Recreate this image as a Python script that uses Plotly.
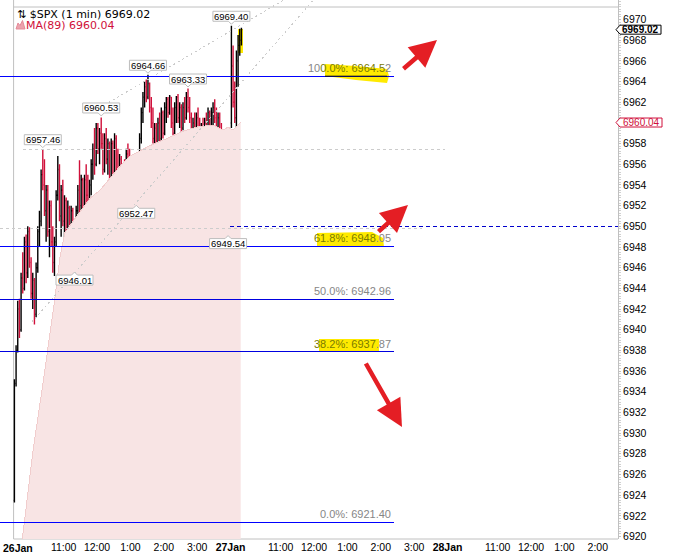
import plotly.graph_objects as go

# ---------------- data (3-minute bars) ----------------
day1_open = [6923.5, 6934.8, 6938.0, 6942.0, 6940.0, 6945.0, 6944.0, 6948.5, 6945.5, 6949.5,
             6946.5, 6943.5, 6944.8, 6941.5, 6946.0, 6949.5, 6950.5, 6955.0, 6954.0, 6951.5,
             6953.5, 6949.5, 6952.0, 6948.5, 6946.5, 6948.5, 6953.0, 6955.5, 6951.0, 6953.5,
             6950.5, 6952.5, 6948.8, 6951.8, 6948.0, 6951.5, 6947.5, 6950.0, 6951.5, 6953.5,
             6952.0, 6954.5, 6951.0, 6954.5, 6953.0, 6951.5, 6954.0, 6956.0, 6957.5, 6956.0,
             6959.5, 6957.5, 6959.0, 6958.0, 6955.5, 6958.5, 6956.5, 6958.0, 6954.5, 6958.0,
             6955.0, 6958.5, 6955.5, 6954.5, 6956.5, 6954.0, 6955.5, 6954.0, 6957.0, 6955.5,
             6954.5, 6956.0, 6953.5, 6955.0, 6953.0, 6955.5, 6958.5, 6961.0, 6962.5, 6963.5,
             6962.5, 6963.8, 6961.5, 6960.0, 6958.5, 6959.5, 6958.0, 6960.0, 6958.5, 6961.0,
             6959.0, 6961.5, 6962.3, 6961.0, 6962.5, 6960.0, 6959.0, 6961.5, 6962.5, 6960.5,
             6961.5, 6959.5, 6961.5, 6960.5, 6962.5, 6961.5, 6960.5, 6959.0, 6960.0, 6958.5,
             6960.5, 6959.5, 6958.5, 6959.5, 6958.0, 6960.0, 6959.0, 6961.0, 6959.0, 6961.0,
             6961.5, 6960.5, 6959.5, 6960.5, 6958.5, 6958.0, 6955.5, 6953.0, 6951.5, 6950.0]
day1_high = [6935.2, 6938.5, 6942.8, 6943.0, 6945.5, 6947.5, 6949.0, 6949.2, 6950.0, 6949.9,
             6947.0, 6945.5, 6945.0, 6946.5, 6950.0, 6951.5, 6955.5, 6957.46, 6956.5, 6954.0,
             6954.0, 6952.5, 6952.5, 6950.0, 6949.0, 6953.5, 6956.8, 6956.0, 6954.0, 6954.5,
             6953.0, 6952.8, 6952.5, 6952.0, 6952.0, 6951.8, 6950.5, 6952.0, 6954.0, 6956.4,
             6955.0, 6954.7, 6955.0, 6956.0, 6955.0, 6954.5, 6956.5, 6958.0, 6959.5, 6960.0,
             6960.0, 6959.5, 6960.53, 6959.0, 6959.0, 6959.5, 6958.5, 6958.2, 6958.5, 6958.3,
             6959.0, 6958.8, 6957.5, 6957.0, 6956.8, 6956.0, 6956.5, 6957.5, 6958.0, 6957.5,
             6956.5, 6956.2, 6955.5, 6955.2, 6956.0, 6959.0, 6961.5, 6963.0, 6964.0, 6964.2,
             6964.66, 6963.9, 6962.5, 6961.5, 6960.0, 6960.0, 6960.5, 6961.0, 6961.5, 6961.2,
             6962.0, 6962.5, 6962.5, 6962.7, 6962.5, 6961.5, 6962.0, 6962.6, 6962.8, 6962.0,
             6961.8, 6962.0, 6962.5, 6963.0, 6963.33, 6962.5, 6961.0, 6960.5, 6961.0, 6961.0,
             6961.5, 6960.5, 6960.0, 6960.5, 6960.5, 6961.0, 6961.5, 6961.2, 6961.5, 6962.0,
             6962.3, 6961.5, 6961.0, 6961.0, 6960.0, 6958.5, 6956.5, 6954.0, 6952.0, 6950.6]
day1_low = [6923.3, 6934.5, 6937.8, 6939.2, 6939.8, 6943.5, 6943.8, 6944.5, 6945.0, 6946.0,
            6943.0, 6942.0, 6940.5, 6941.2, 6945.5, 6948.0, 6950.0, 6953.5, 6951.0, 6948.5,
            6949.0, 6947.0, 6948.0, 6945.5, 6945.2, 6948.0, 6952.5, 6950.5, 6949.0, 6950.0,
            6948.5, 6948.0, 6948.5, 6947.5, 6947.8, 6947.0, 6946.01, 6947.0, 6950.0, 6951.0,
            6951.5, 6950.0, 6950.8, 6952.0, 6951.0, 6950.5, 6953.0, 6954.5, 6955.0, 6955.8,
            6957.0, 6956.0, 6957.5, 6955.0, 6955.2, 6956.0, 6955.0, 6954.0, 6954.3, 6954.5,
            6954.8, 6955.0, 6954.0, 6953.0, 6953.5, 6952.8, 6953.5, 6953.8, 6955.0, 6954.0,
            6953.0, 6953.0, 6952.8, 6952.47, 6952.8, 6955.0, 6958.0, 6960.0, 6961.5, 6962.0,
            6962.3, 6961.0, 6959.5, 6958.0, 6957.8, 6957.3, 6957.5, 6958.0, 6958.3, 6958.5,
            6958.8, 6960.0, 6960.5, 6960.8, 6959.5, 6958.3, 6958.8, 6960.0, 6960.0, 6959.5,
            6959.0, 6959.3, 6960.0, 6960.3, 6961.0, 6960.0, 6958.5, 6957.5, 6958.0, 6958.3,
            6959.0, 6958.0, 6957.5, 6957.6, 6957.8, 6958.5, 6958.8, 6958.5, 6958.8, 6959.5,
            6960.0, 6959.0, 6958.5, 6958.0, 6957.5, 6955.0, 6952.5, 6951.0, 6949.54, 6949.6]
day1_close = [6934.8, 6938.0, 6942.0, 6940.0, 6945.0, 6944.0, 6948.5, 6945.5, 6949.5, 6946.5,
              6943.5, 6944.8, 6941.5, 6946.0, 6949.5, 6950.5, 6955.0, 6954.0, 6951.5, 6953.5,
              6949.5, 6952.0, 6948.5, 6946.5, 6948.5, 6953.0, 6955.5, 6951.0, 6953.5, 6950.5,
              6952.5, 6948.8, 6951.8, 6948.0, 6951.5, 6947.5, 6950.0, 6951.5, 6953.5, 6952.0,
              6954.5, 6951.0, 6954.5, 6953.0, 6951.5, 6954.0, 6956.0, 6957.5, 6956.0, 6959.5,
              6957.5, 6959.0, 6958.0, 6955.5, 6958.5, 6956.5, 6958.0, 6954.5, 6958.0, 6955.0,
              6958.5, 6955.5, 6954.5, 6956.5, 6954.0, 6955.5, 6954.0, 6957.0, 6955.5, 6954.5,
              6956.0, 6953.5, 6955.0, 6953.0, 6955.5, 6958.5, 6961.0, 6962.5, 6963.5, 6962.5,
              6963.8, 6961.5, 6960.0, 6958.5, 6959.5, 6958.0, 6960.0, 6958.5, 6961.0, 6959.0,
              6961.5, 6962.3, 6961.0, 6962.5, 6960.0, 6959.0, 6961.5, 6962.5, 6960.5, 6961.5,
              6959.5, 6961.5, 6960.5, 6962.5, 6961.5, 6960.5, 6959.0, 6960.0, 6958.5, 6960.5,
              6959.5, 6958.5, 6959.5, 6958.0, 6960.0, 6959.0, 6961.0, 6959.0, 6961.0, 6961.5,
              6960.5, 6959.5, 6960.5, 6958.5, 6958.0, 6955.5, 6953.0, 6951.5, 6950.0, 6950.2]

day2_open = [6960.0, 6965.5, 6962.0, 6960.5, 6966.0, 6967.5, 6968.0]
day2_high = [6969.40, 6967.5, 6964.0, 6967.0, 6968.5, 6969.1, 6969.2]
day2_low = [6959.5, 6961.5, 6960.0, 6958.8, 6963.5, 6966.5, 6967.5]
day2_close = [6965.5, 6962.0, 6960.5, 6966.0, 6967.5, 6968.0, 6969.02]

# session minutes (390 per trading session, sessions placed back to back)
bar_time = [3 * i + 1.5 for i in range(len(day1_open))] + [390 + 3 * j + 1.5 for j in range(len(day2_open))]
bar_open = day1_open + day2_open
bar_high = day1_high + day2_high
bar_low = day1_low + day2_low
bar_close = day1_close + day2_close

ma_time = [15.6, 34.9, 52.8, 65.4, 74.4, 83.4, 88.8, 92.4, 113.9, 137.3, 155.3, 173.3, 191.2,
           209.2, 227.2, 245.1, 275.7, 304.4, 329.6, 358.4, 376.3, 385.3, 394.3, 408.2]
ma_value = [6919.7, 6928.3, 6934.8, 6939.6, 6943.1, 6947.0, 6948.6, 6949.4, 6951.0, 6952.7,
            6953.5, 6954.7, 6955.8, 6956.8, 6957.3, 6957.8, 6958.5, 6959.2, 6959.6, 6959.8,
            6959.3, 6959.6, 6959.3, 6960.04]

fib_labels = ["100.0%", "61.8%", "50.0%", "38.2%", "0.0%"]
fib_levels = [6964.52, 6948.05, 6942.96, 6937.87, 6921.40]
fib_colors = ["#0000ff", "#0000ff", "#0000e0", "#0000e0", "#0000ff"]
fib_start, fib_end = -24.4, 683.7

swing_high_idx = [17, 52, 80, 104, 130]
swing_low_idx = [36, 73, 128]

trend_a_time = [32.5, 538.0]
trend_a_price = [6940.73, 6971.84]
trend_b_time = [155.3, 484.0]
trend_b_price = [6961.49, 6971.84]

gray_dash_levels = [6957.46, 6949.75]
gray_dash_span = [(17, 775), (-24.4, 734)]
prev_close_level = 6950.0
prev_close_span = (389, 1086.3)

last_price = 6969.02
last_ma = 6960.04

tick_vals = [0, 90, 150, 210, 270, 330, 390, 480, 540, 600, 660, 720, 780, 870, 930, 990, 1050]
tick_text = ["", "11:00", "12:00", "1:00", "2:00", "3:00",
             "<b>27Jan</b>", "11:00", "12:00", "1:00", "2:00", "3:00",
             "<b>28Jan</b>", "11:00", "12:00", "1:00", "2:00"]
first_day_label = "26Jan"

# ---------------- geometry helpers (decoration only) ----------------
X_MIN, X_MAX = -24.4, 1086.3
Y_MIN, Y_MAX = 6919.76, 6971.89
PLOT_W, PLOT_H = 618, 539


def px_x(px):
    return X_MIN + px / PLOT_W * (X_MAX - X_MIN)


def px_y(py):
    return Y_MAX - py / PLOT_H * (Y_MAX - Y_MIN)


def pap_x(px):
    return px / PLOT_W


def pap_y(py):
    return (PLOT_H - py) / PLOT_H


RED = "#d0103a"
FONT = "Liberation Sans"

fig = go.Figure()

# MA(89) area
fig.add_trace(go.Scatter(x=ma_time, y=ma_value, mode="lines", fill="tozeroy",
                         line=dict(color="#f1cdcd", width=1), fillcolor="#f8e4e4",
                         hoverinfo="skip", showlegend=False))

# gray dashed horizontals
for lvl, (a, b) in zip(gray_dash_levels, gray_dash_span):
    fig.add_trace(go.Scatter(x=[a, b], y=[lvl, lvl], mode="lines",
                             line=dict(color="#cccccc", width=1, dash="3px,3px"),
                             hoverinfo="skip", showlegend=False))

# dotted trend lines
for tt, pp in [(trend_a_time, trend_a_price), (trend_b_time, trend_b_price)]:
    fig.add_trace(go.Scatter(x=tt, y=pp, mode="lines",
                             line=dict(color="#cccccc", width=1, dash="2px,3px"),
                             hoverinfo="skip", showlegend=False))

# fib lines
for lvl, col in zip(fib_levels, fib_colors):
    fig.add_trace(go.Scatter(x=[fib_start, fib_end], y=[lvl, lvl], mode="lines",
                             line=dict(color=col, width=1), hoverinfo="skip", showlegend=False))

# previous close dashed blue
fig.add_trace(go.Scatter(x=list(prev_close_span), y=[prev_close_level, prev_close_level], mode="lines",
                         line=dict(color="#0000cc", width=1, dash="4px,3px"),
                         hoverinfo="skip", showlegend=False))

# price bars
fig.add_trace(go.Ohlc(x=bar_time, open=bar_open, high=bar_high, low=bar_low, close=bar_close,
                      increasing=dict(line=dict(color="#000000", width=1.4)),
                      decreasing=dict(line=dict(color=RED, width=1.4)),
                      tickwidth=0.5, hoverinfo="skip", showlegend=False))

shapes = []
annotations = []

# frame lines
shapes.append(dict(type="line", xref="x", yref="paper", x0=0, x1=0, y0=0, y1=1,
                   line=dict(color="#c0c0c0", width=1), layer="below"))
shapes.append(dict(type="line", xref="x", yref="paper", x0=0, x1=X_MAX, y0=pap_y(7), y1=pap_y(7),
                   line=dict(color="#c0c0c0", width=1), layer="below"))
shapes.append(dict(type="line", xref="x", yref="paper", x0=0, x1=X_MAX, y0=0, y1=0,
                   line=dict(color="#c0c0c0", width=1), layer="below"))

# yellow highlighter strokes
YEL = "#ffea00"
hl100 = [(325, 64), (356, 66), (387, 69), (389, 76), (387, 83), (356, 80), (325, 76)]
hl618 = [(317, 233), (372, 232), (383, 238), (384, 247), (317, 246)]
hl382 = [(319, 339), (379, 339), (379, 352), (319, 352)]
hllast = [(238, 29), (243, 29), (243, 53), (238, 53)]
for poly in [hl100, hl618, hl382, hllast]:
    path = "M " + " L ".join(f"{px_x(a):.2f},{px_y(b):.3f}" for a, b in poly) + " Z"
    shapes.append(dict(type="path", xref="x", yref="y", path=path, fillcolor=YEL,
                       line=dict(width=0), layer="below"))
# line segment darkened under the highlighter
shapes.append(dict(type="line", xref="x", yref="y", x0=px_x(325), x1=px_x(387),
                   y0=fib_levels[0], y1=fib_levels[0], line=dict(color="#101010", width=1), layer="above"))

# fib labels
OLIVE = "#7a7a00"
GRAY = "#868686"
label_parts = [
    ("10", "0.0%: 6964.5", "2"),
    ("", "61.8%: 6948", ".05"),
    ("50.0%: 6942.96", "", ""),
    ("", "38.2%: 6937", ".87"),
    ("0.0%: 6921.40", "", ""),
]
for lvl, (a, b, c) in zip(fib_levels, label_parts):
    txt = a + (f"<span style='color:{OLIVE}'>{b}</span>" if b else "") + c
    annotations.append(dict(x=px_x(393), y=lvl, xref="x", yref="y", text=txt, showarrow=False,
                            xanchor="right", yanchor="bottom", yshift=0,
                            font=dict(family=FONT, size=11, color=GRAY)))

# swing labels
def swing_box(idx, high):
    t = bar_time[idx]
    p = bar_high[idx] if high else bar_low[idx]
    if high:
        path = "M-18.5,4.5 L-3,4.5 L0,1.5 L3,4.5 L18.5,4.5 L18.5,14.5 L-18.5,14.5 Z"
        ys = 9.5
    else:
        path = "M-18.5,-7.5 L-3,-7.5 L0,-4.5 L3,-7.5 L18.5,-7.5 L18.5,-17.5 L-18.5,-17.5 Z"
        ys = -12.5
    shapes.append(dict(type="path", xref="x", yref="y", xsizemode="pixel", ysizemode="pixel",
                       xanchor=t, yanchor=p, path=path, fillcolor="white",
                       line=dict(color="#bdbdbd", width=1), layer="above"))
    annotations.append(dict(x=t, y=p, xref="x", yref="y", text=f"{p:.2f}", showarrow=False,
                            yshift=ys, font=dict(family=FONT, size=9.5, color="#000000")))


for i in swing_high_idx:
    swing_box(i, True)
for i in swing_low_idx:
    swing_box(i, False)

# right-axis price badges
shapes.append(dict(type="path", xref="paper", yref="y", xsizemode="pixel", ysizemode="pixel",
                   xanchor=1, yanchor=last_price, path="M-2,0 L2,4.5 L43,4.5 L43,-4.5 L2,-4.5 Z",
                   fillcolor="white", line=dict(color="#000000", width=1), layer="above"))
annotations.append(dict(x=1, y=last_price, xref="paper", yref="y", text=f"<b>{last_price:.2f}</b>",
                        showarrow=False, xanchor="center", xshift=22.5,
                        font=dict(family=FONT, size=10, color="#000000")))
shapes.append(dict(type="path", xref="paper", yref="y", xsizemode="pixel", ysizemode="pixel",
                   xanchor=1, yanchor=last_ma, path="M-2,0 L2,4.5 L44,4.5 L44,-4.5 L2,-4.5 Z",
                   fillcolor="white", line=dict(color=RED, width=1), layer="above"))
annotations.append(dict(x=1, y=last_ma, xref="paper", yref="y", text=f"{last_ma:.2f}",
                        showarrow=False, xanchor="center", xshift=23,
                        font=dict(family=FONT, size=10, color=RED)))

# first session label (kept inside the page at the left edge)
annotations.append(dict(x=0, y=0, xref="paper", yref="paper", text=f"<b>{first_day_label}</b>",
                        showarrow=False, xanchor="left", yanchor="top", yshift=-1, xshift=1,
                        font=dict(family=FONT, size=10.5, color="#000000")))

# header texts
annotations.append(dict(x=pap_x(15), y=pap_y(14), xref="paper", yref="paper",
                        text=f"⇅ $SPX (1 min) {last_price:.2f}", showarrow=False,
                        xanchor="left", yanchor="middle",
                        font=dict(family="DejaVu Sans", size=11, color="#000000")))
annotations.append(dict(x=pap_x(24), y=pap_y(25), xref="paper", yref="paper",
                        text=f"MA(89) {last_ma:.2f}", showarrow=False,
                        xanchor="left", yanchor="middle",
                        font=dict(family="DejaVu Sans", size=11, color=RED)))
icon = [(16, 29), (18, 23), (20, 25.5), (22.5, 20.5), (25, 29)]
shapes.append(dict(type="path", xref="paper", yref="paper",
                   path="M " + " L ".join(f"{pap_x(a):.5f},{pap_y(b):.5f}" for a, b in icon) + " Z",
                   fillcolor="#eba3ad", line=dict(color="#e58a98", width=1)))

# red arrows
ARROW = "#e41e24"
for tip, tail in [((437, 40), (402, 70)), ((408, 205), (377, 233)), ((402, 427), (365, 362))]:
    annotations.append(dict(x=px_x(tip[0]), y=px_y(tip[1]), xref="x", yref="y",
                            ax=tail[0] - tip[0], ay=tail[1] - tip[1], axref="pixel", ayref="pixel",
                            text="", showarrow=True, arrowhead=2, arrowsize=1.2,
                            arrowwidth=4.5, arrowcolor=ARROW))

fig.update_layout(
    width=675, height=552,
    margin=dict(l=0, r=57, t=0, b=13, pad=0),
    paper_bgcolor="white", plot_bgcolor="white",
    showlegend=False,
    shapes=shapes, annotations=annotations,
    xaxis=dict(range=[X_MIN, X_MAX], showgrid=False, zeroline=False, showline=False,
               tickmode="array", tickvals=tick_vals, ticktext=tick_text, ticks="",
               tickfont=dict(family=FONT, size=10.5, color="#000000"),
               rangeslider=dict(visible=False), fixedrange=True),
    yaxis=dict(range=[Y_MIN, Y_MAX], side="right", showgrid=False, zeroline=False,
               showline=True, linecolor="#c0c0c0", linewidth=1,
               tick0=6920, dtick=2, ticks="outside", ticklen=2, tickcolor="#c0c0c0",
               minor=dict(dtick=0.25, ticks="outside", ticklen=2, tickcolor="#d0d0d0"),
               tickfont=dict(family=FONT, size=10.5, color="#000000"), fixedrange=True),
)

post = (
    "document.body.style.margin='0px';document.body.style.overflow='hidden';"
    "document.querySelectorAll('.scatterlayer path.js-line').forEach("
    "function(p){p.style.shapeRendering='crispEdges';});"
)
fig.write_html("out.html", config={"displayModeBar": False}, post_script=post)
